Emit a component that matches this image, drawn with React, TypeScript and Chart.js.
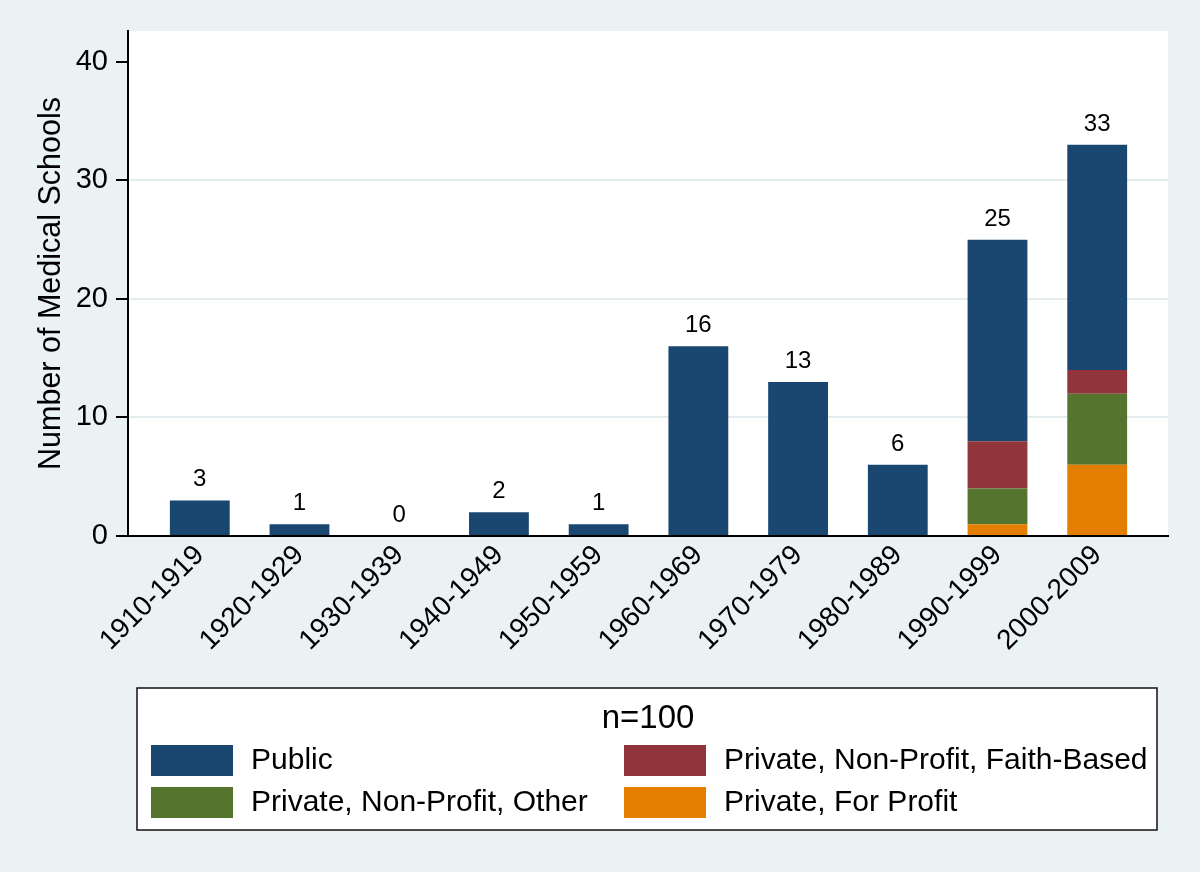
import React, { useEffect, useRef } from "react";
import { Chart, registerables } from "chart.js";

Chart.register(...registerables);

// ---- data ----
const categories = [
  "1910-1919",
  "1920-1929",
  "1930-1939",
  "1940-1949",
  "1950-1959",
  "1960-1969",
  "1970-1979",
  "1980-1989",
  "1990-1999",
  "2000-2009",
];
const publicSchools = [3, 1, 0, 2, 1, 16, 13, 6, 17, 19];
const faithBased = [0, 0, 0, 0, 0, 0, 0, 0, 4, 2];
const nonProfitOther = [0, 0, 0, 0, 0, 0, 0, 0, 3, 6];
const forProfit = [0, 0, 0, 0, 0, 0, 0, 0, 1, 6];
const yTicks = [0, 10, 20, 30, 40];
const legendTitle = "n=100";
const yTitle = "Number of Medical Schools";

const seriesLabels = {
  public: "Public",
  faith: "Private, Non-Profit, Faith-Based",
  other: "Private, Non-Profit, Other",
  profit: "Private, For Profit",
};

const COLORS = {
  public: "#1a476f",
  faith: "#90353b",
  other: "#55752f",
  profit: "#e37e00",
};

const FONT = "'Liberation Sans', Arial, sans-serif";
const BG = "#eaf2f3";

export default function App() {
  const canvasRef = useRef<HTMLCanvasElement | null>(null);

  useEffect(() => {
    const canvas = canvasRef.current;
    if (!canvas) return;

    const toPoints = (arr: number[]) => arr.map((v, i) => ({ x: i, y: v }));

    // bottom -> top stacking order
    const datasets = [
      { key: "profit", label: seriesLabels.profit, data: toPoints(forProfit), backgroundColor: COLORS.profit },
      { key: "other", label: seriesLabels.other, data: toPoints(nonProfitOther), backgroundColor: COLORS.other },
      { key: "faith", label: seriesLabels.faith, data: toPoints(faithBased), backgroundColor: COLORS.faith },
      { key: "public", label: seriesLabels.public, data: toPoints(publicSchools), backgroundColor: COLORS.public },
    ];

    const totals = categories.map(
      (_, i) => publicSchools[i] + faithBased[i] + nonProfitOther[i] + forProfit[i]
    );

    const bgPlugin = {
      id: "bgPlugin",
      beforeDraw(chart: any) {
        const { ctx, chartArea } = chart;
        ctx.save();
        ctx.fillStyle = BG;
        ctx.fillRect(0, 0, chart.width, chart.height);
        ctx.fillStyle = "#ffffff";
        ctx.fillRect(chartArea.left, chartArea.top, chartArea.right - chartArea.left, chartArea.bottom - chartArea.top);
        ctx.restore();
      },
    };

    const totalsPlugin = {
      id: "totalsPlugin",
      afterDatasetsDraw(chart: any) {
        const { ctx, scales } = chart;
        ctx.save();
        ctx.fillStyle = "#000";
        ctx.font = `24px ${FONT}`;
        ctx.textAlign = "center";
        ctx.textBaseline = "alphabetic";
        totals.forEach((t, i) => {
          const x = scales.x.getPixelForValue(i);
          const y = scales.y.getPixelForValue(t);
          ctx.fillText(String(t), x, y - 14);
        });
        ctx.restore();
      },
    };

    const legendOrder = [
      ["public", "faith"],
      ["other", "profit"],
    ];

    const legendPlugin = {
      id: "customLegend",
      afterDraw(chart: any) {
        const { ctx } = chart;
        const box = { l: 137, t: 688, r: 1157, b: 830 };
        ctx.save();
        ctx.fillStyle = "#ffffff";
        ctx.fillRect(box.l, box.t, box.r - box.l, box.b - box.t);
        ctx.strokeStyle = "#111";
        ctx.lineWidth = 1.5;
        ctx.strokeRect(box.l, box.t, box.r - box.l, box.b - box.t);

        ctx.fillStyle = "#000";
        ctx.font = `33px ${FONT}`;
        ctx.textAlign = "center";
        ctx.textBaseline = "middle";
        ctx.fillText(legendTitle, 648, 719);

        const colX = [151, 624];
        const rowY = [745, 787];
        ctx.font = `30px ${FONT}`;
        ctx.textAlign = "left";
        legendOrder.forEach((row, r) => {
          row.forEach((key, c) => {
            const ds = datasets.find((d) => d.key === key)!;
            ctx.fillStyle = ds.backgroundColor;
            ctx.fillRect(colX[c], rowY[r], 82, 31);
            ctx.fillStyle = "#000";
            ctx.fillText(ds.label, colX[c] + 100, rowY[r] + 16);
          });
        });
        ctx.restore();
      },
    };

    const chart = new Chart(canvas, {
      type: "bar",
      data: {
        datasets: datasets.map((d) => ({
          label: d.label,
          data: d.data as any,
          backgroundColor: d.backgroundColor,
          borderWidth: 0,
          barPercentage: 0.6,
          categoryPercentage: 1,
        })),
      },
      options: {
        animation: false,
        responsive: false,
        maintainAspectRatio: false,
        layout: { padding: { left: 0, right: 32, top: 31, bottom: 0 } },
        plugins: {
          legend: { display: false },
          tooltip: { enabled: false },
          title: { display: false },
        },
        scales: {
          x: {
            type: "linear",
            min: -0.72,
            max: 9.71,
            offset: false,
            stacked: true,
            afterBuildTicks: (s: any) => {
              s.ticks = categories.map((_, i) => ({ value: i }));
            },
            afterFit: (s: any) => {
              s.height = 336;
            },
            grid: { display: false, drawTicks: false, offset: false },
            border: { display: true, color: "#000", width: 2 },
            ticks: {
              autoSkip: false,
              minRotation: 45,
              maxRotation: 45,
              padding: 3,
              color: "#000",
              font: { size: 28, family: FONT },
              callback: (v: any) => categories[v] ?? "",
            },
          },
          y: {
            type: "linear",
            min: 0,
            max: 42.6,
            stacked: true,
            afterBuildTicks: (s: any) => {
              s.ticks = yTicks.map((v) => ({ value: v }));
            },
            afterFit: (s: any) => {
              s.width = 128;
            },
            grid: {
              color: (c: any) =>
                c.tick && (c.tick.value === 0 || c.tick.value === 40) ? "rgba(0,0,0,0)" : "#e3ecee",
              lineWidth: 2,
              drawTicks: true,
              tickLength: 12,
              tickColor: "#000",
              tickWidth: 2,
            },
            border: { display: true, color: "#000", width: 2 },
            ticks: {
              padding: 8,
              color: "#000",
              font: { size: 29, family: FONT },
            },
            title: {
              display: true,
              text: yTitle,
              color: "#000",
              font: { size: 30.5, family: FONT },
              padding: { top: 33, bottom: 0 },
            },
          },
        },
      },
      plugins: [bgPlugin, totalsPlugin, legendPlugin],
    });

    return () => chart.destroy();
  }, []);

  return (
    <div style={{ position: "fixed", left: 0, top: 0, width: 1200, height: 872, background: BG }}>
      <canvas ref={canvasRef} width={1200} height={872} style={{ display: "block", width: 1200, height: 872 }} />
    </div>
  );
}
